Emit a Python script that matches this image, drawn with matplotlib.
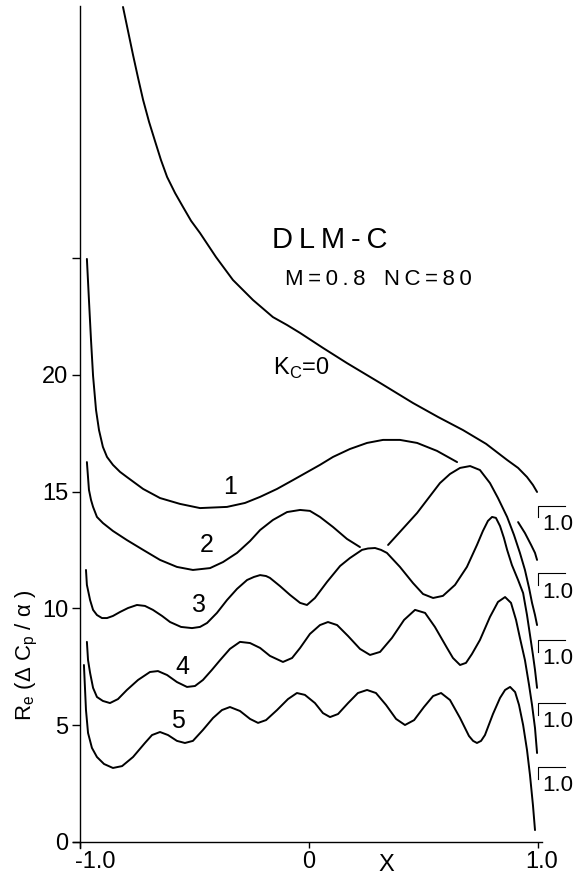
import numpy as np
import matplotlib.pyplot as plt

plt.rcParams['font.family'] = ['Liberation Sans', 'DejaVu Sans']

# ---- curves (x = chord position, y = Re(dCp/alpha)) ----
# nan marks the places where a curve is hidden behind the one in front of it
kc0_x = [-0.814, -0.792, -0.770, -0.748, -0.726, -0.700, -0.674, -0.648, -0.621, -0.586,
         -0.551, -0.516, -0.477, -0.407, -0.333, -0.245, -0.158, -0.096, -0.039, 0.061,
         0.166, 0.311, 0.455, 0.565, 0.674, 0.775, 0.867, 0.915, 0.954, 0.980, 0.998]
kc0_y = [35.76, 34.73, 33.70, 32.72, 31.78, 30.84, 30.02, 29.21, 28.48, 27.79,
         27.19, 26.60, 26.08, 25.05, 24.07, 23.21, 22.48, 22.14, 21.80, 21.16,
         20.51, 19.66, 18.80, 18.20, 17.64, 17.05, 16.36, 16.02, 15.63, 15.29, 14.99]

k1_x = [-0.972, -0.963, -0.954, -0.945, -0.932, -0.919, -0.902, -0.884, -0.858, -0.827,
        -0.797, -0.726, -0.652, -0.565, -0.477, -0.359, -0.280, -0.214, -0.140, -0.070,
        0.048, 0.105, 0.179, 0.254, 0.324, 0.398, 0.473, 0.560, 0.648, np.nan,
        0.915, 0.945, 0.972, 0.989, 0.998]
k1_y = [24.97, 23.21, 21.50, 19.96, 18.50, 17.64, 16.92, 16.49, 16.15, 15.85,
        15.63, 15.12, 14.73, 14.48, 14.30, 14.35, 14.52, 14.78, 15.12, 15.50,
        16.15, 16.49, 16.83, 17.09, 17.22, 17.22, 17.09, 16.75, 16.27, np.nan,
        13.70, 13.23, 12.72, 12.38, 12.08]

k2_x = [-0.972, -0.963, -0.954, -0.945, -0.928, -0.902, -0.858, -0.797, -0.726, -0.652,
        -0.578, -0.508, -0.433, -0.376, -0.315, -0.258, -0.214, -0.158, -0.096, -0.039,
        0.004, 0.048, 0.105, 0.166, 0.223, np.nan, 0.346, 0.398, 0.473, 0.530,
        0.573, 0.617, 0.661, 0.705, 0.748, 0.792, 0.827, 0.867, 0.897, 0.923,
        0.945, 0.963, 0.976, 0.989, 0.998]
k2_y = [16.27, 15.08, 14.65, 14.35, 13.92, 13.66, 13.32, 12.93, 12.51, 12.08,
        11.78, 11.65, 11.73, 11.99, 12.38, 12.89, 13.36, 13.79, 14.13, 14.22,
        14.18, 13.92, 13.49, 12.98, 12.63, np.nan, 12.72, 13.28, 14.09, 14.82,
        15.37, 15.76, 16.02, 16.10, 15.93, 15.37, 14.73, 13.92, 13.15, 12.38,
        11.65, 10.88, 10.24, 9.72, 9.29]

k3_x = [-0.976, -0.972, -0.958, -0.945, -0.928, -0.906, -0.884, -0.858, -0.827, -0.792,
        -0.753, -0.718, -0.683, -0.643, -0.608, -0.560, -0.512, -0.477, -0.446, -0.403,
        -0.359, -0.315, -0.271, -0.241, -0.214, -0.188, -0.171, -0.127, -0.083, -0.039,
        -0.009, 0.026, 0.079, 0.136, 0.179, 0.232, 0.258, 0.289, 0.315, 0.341,
        0.398, 0.455, 0.499, 0.543, 0.586, 0.639, 0.691, 0.735, 0.761, 0.783,
        0.801, 0.818, 0.836, 0.853, 0.867, 0.888, 0.915, 0.937, 0.954, 0.967,
        0.980, 0.989, 0.998]
k3_y = [11.65, 11.01, 10.36, 9.94, 9.72, 9.59, 9.59, 9.68, 9.85, 10.02,
        10.15, 10.11, 9.94, 9.68, 9.42, 9.21, 9.16, 9.21, 9.38, 9.81,
        10.36, 10.84, 11.22, 11.35, 11.43, 11.39, 11.31, 10.96, 10.58, 10.24,
        10.15, 10.45, 11.14, 11.82, 12.16, 12.51, 12.57, 12.59, 12.51, 12.38,
        11.78, 11.09, 10.62, 10.45, 10.54, 11.01, 11.78, 12.72, 13.32, 13.75,
        13.92, 13.88, 13.53, 13.02, 12.51, 11.86, 11.22, 10.66, 9.72, 8.87,
        8.01, 7.37, 6.60]

k4_x = [-0.972, -0.967, -0.958, -0.945, -0.928, -0.902, -0.871, -0.836, -0.797, -0.748,
        -0.696, -0.661, -0.621, -0.578, -0.534, -0.499, -0.464, -0.425, -0.389, -0.346,
        -0.302, -0.258, -0.214, -0.171, -0.114, -0.074, -0.039, 0.004, 0.048, 0.083,
        0.123, 0.171, 0.223, 0.267, 0.311, 0.363, 0.416, 0.464, 0.508, 0.551,
        0.604, 0.630, 0.661, 0.687, 0.713, 0.748, 0.792, 0.827, 0.858, 0.884,
        0.906, 0.923, 0.945, 0.963, 0.976, 0.989, 0.998]
k4_y = [8.57, 7.79, 7.24, 6.60, 6.21, 6.04, 5.95, 6.12, 6.51, 6.94,
        7.28, 7.32, 7.15, 6.85, 6.64, 6.68, 6.94, 7.37, 7.79, 8.27,
        8.57, 8.52, 8.31, 7.97, 7.71, 7.88, 8.31, 8.91, 9.29, 9.42,
        9.29, 8.82, 8.27, 8.01, 8.14, 8.74, 9.51, 9.94, 9.81, 9.21,
        8.31, 7.88, 7.58, 7.67, 8.05, 8.65, 9.64, 10.28, 10.49, 10.24,
        9.51, 8.74, 7.79, 6.72, 5.87, 4.88, 3.81]

k5_x = [-0.985, -0.980, -0.976, -0.967, -0.950, -0.928, -0.897, -0.858, -0.818, -0.770,
        -0.718, -0.687, -0.652, -0.617, -0.578, -0.543, -0.508, -0.464, -0.420, -0.381,
        -0.346, -0.302, -0.258, -0.223, -0.188, -0.140, -0.092, -0.053, -0.018, 0.026,
        0.061, 0.092, 0.127, 0.171, 0.214, 0.254, 0.293, 0.337, 0.381, 0.420,
        0.460, 0.503, 0.543, 0.578, 0.617, 0.661, 0.700, 0.718, 0.735, 0.753,
        0.770, 0.805, 0.836, 0.858, 0.880, 0.902, 0.919, 0.937, 0.954, 0.967,
        0.980, 0.989]
k5_y = [7.58, 6.51, 5.65, 4.67, 4.03, 3.64, 3.34, 3.17, 3.25, 3.64,
        4.24, 4.58, 4.71, 4.58, 4.33, 4.24, 4.33, 4.80, 5.31, 5.65,
        5.78, 5.61, 5.27, 5.10, 5.22, 5.65, 6.12, 6.38, 6.30, 5.95,
        5.52, 5.35, 5.48, 5.95, 6.38, 6.51, 6.38, 5.87, 5.27, 5.01,
        5.22, 5.78, 6.25, 6.38, 6.08, 5.31, 4.54, 4.33, 4.24, 4.33,
        4.58, 5.48, 6.17, 6.51, 6.64, 6.42, 5.87, 5.01, 3.94, 2.87,
        1.58, 0.51]

curves = [(kc0_x, kc0_y), (k1_x, k1_y), (k2_x, k2_y),
          (k3_x, k3_y), (k4_x, k4_y), (k5_x, k5_y)]

curve_labels = ['1', '2', '3', '4', '5']
label_x = [-0.346, -0.446, -0.481, -0.556, -0.574]
label_y = [15.2, 12.7, 10.15, 7.5, 5.2]

# trailing-edge reference marks "1.0" for each shifted curve
te_levels = [14.4, 11.5, 8.65, 5.95, 3.2]

yticks = [0, 5, 10, 15, 20, 25]
ytick_labels = ['0', '5', '10', '15', '20', '']
xticks = [-1.0, 0.0, 1.0]
xtick_labels = ['-1.0', '0', '1.0']

# ---- figure ----
fig = plt.figure(figsize=(5.74, 8.77), dpi=100)
ax = fig.add_axes([0.1271, 0.0330, 0.8173, 0.9601])
ax.set_xlim(-1.033, 1.02)
ax.set_ylim(-0.26, 35.8)

for cx, cy in curves:
    ax.plot(cx, cy, color='black', lw=1.4, solid_capstyle='round', solid_joinstyle='round')

for spine in ['top', 'right']:
    ax.spines[spine].set_visible(False)
ax.spines['left'].set_position(('data', -1.0))
ax.spines['bottom'].set_position(('data', 0.0))
ax.spines['left'].set_linewidth(1.0)
ax.spines['bottom'].set_linewidth(1.0)

ax.set_yticks(yticks)
ax.set_yticklabels(ytick_labels)
ax.tick_params(axis='y', direction='out', length=5.8, width=1.0, labelsize=17, pad=3)
ax.set_xticks(xticks)
ax.tick_params(axis='x', direction='out', length=4.5, width=1.0, labelbottom=False)

# x tick labels, nudged like the hand lettering
x_shift = [0.063, 0.0, 0.02]
for xv, lab, dx in zip(xticks, xtick_labels, x_shift):
    ax.text(xv + dx, -0.85, lab, fontsize=17, ha='center', va='center', clip_on=False)
ax.text(0.337, -0.98, 'X', fontsize=17, ha='center', va='center', clip_on=False)

ax.text(-1.234, 8.0, 'R$_\\mathregular{e}$ (Δ C$_\\mathregular{p}$ / α )', rotation=90,
        fontsize=16, ha='center', va='center', clip_on=False)

# annotations
ax.text(-0.162, 25.44, 'D\u2009L\u2009M\u2009-\u2009C', fontsize=21, ha='left', va='baseline')
ax.text(-0.105, 23.85, 'M\u2009=\u20090\u2009.\u20098   N\u2009C\u2009=\u20098\u20090',
        fontsize=16, ha='left', va='baseline')
ax.text(-0.158, 20.0, 'K$_\\mathregular{C}$=0', fontsize=17, ha='left', va='baseline')

for lab, lx, ly in zip(curve_labels, label_x, label_y):
    ax.text(lx, ly, lab, fontsize=18, ha='center', va='center')

for lev in te_levels:
    ax.plot([1.002, 1.002, 1.12], [lev - 0.5, lev, lev], color='black', lw=0.8,
            clip_on=False)
    ax.text(1.02, lev - 0.8, '1.0', fontsize=16, ha='left', va='center', clip_on=False)

fig.savefig('out.png', dpi=100)
